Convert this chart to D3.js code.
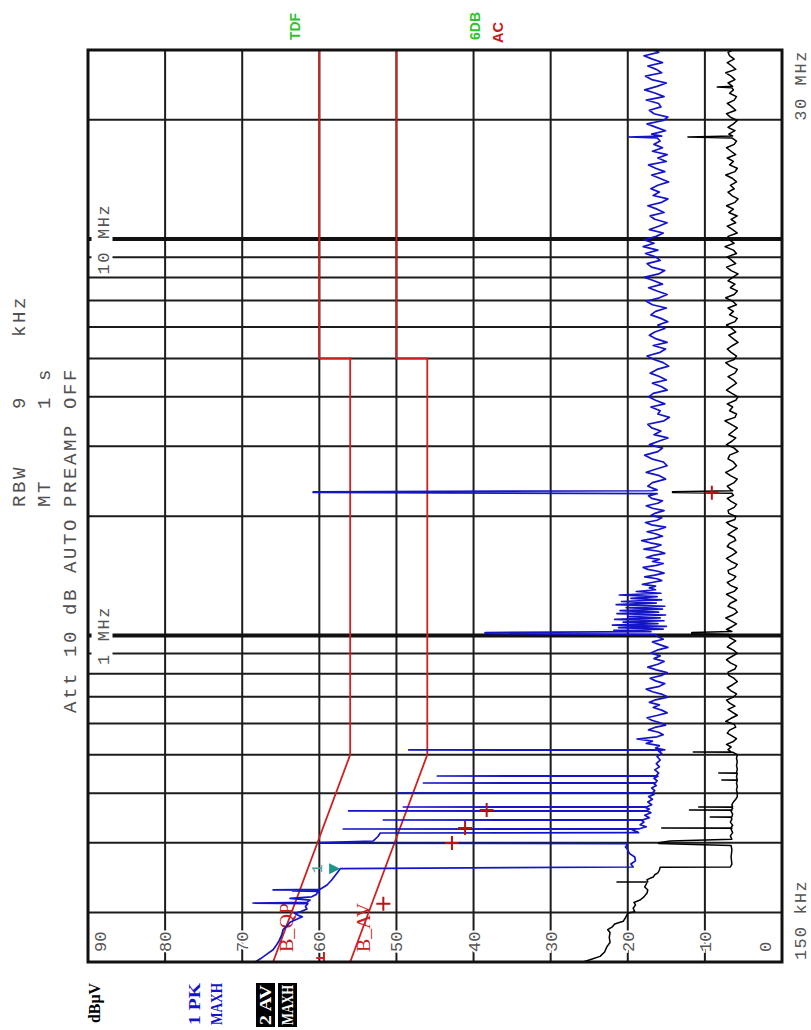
<!DOCTYPE html>
<html>
<head>
<meta charset="utf-8">
<script src="https://cdn.jsdelivr.net/npm/d3@7"></script>
<style>
  html, body { margin: 0; padding: 0; background: #ffffff; }
  svg { display: block; }
</style>
</head>
<body>
<svg id="chart" width="811" height="1030"></svg>
<script>
// ---------------------------------------------------------------
// Conducted emission scan, 150 kHz - 30 MHz, level in dBuV.
// Frequencies in MHz, levels in dBuV.
// ---------------------------------------------------------------

const levelTicks = [0, 10, 20, 30, 40, 50, 60, 70, 80, 90];
const freqMinorGrid = [0.2, 0.3, 0.4, 0.5, 0.6, 0.7, 0.8, 0.9, 2, 3, 4, 5, 6, 7, 8, 9, 20];
const freqDecadeGrid = [1, 10];
const decadeLabels = ["1 MHz", "10 MHz"];

// EN 55022 class B limits
const qpLimit = [[0.15, 66], [0.5, 56], [5, 56], [5, 60], [30, 60]];
const avLimit = [[0.15, 56], [0.5, 46], [5, 46], [5, 50], [30, 50]];

// Trace 1: peak, max hold
const peakTrace = [
  [0.150, 68.3], [0.153, 67.6], [0.157, 66.8], [0.161, 66.0], [0.165, 65.6], [0.170, 65.2],
  [0.175, 64.9], [0.181, 64.7], [0.185, 64.2], [0.189, 63.8], [0.192, 63.0], [0.195, 62.2],
  [0.197, 62.8], [0.199, 63.2], [0.201, 62.4], [0.204, 61.6], [0.207, 61.8], [0.2105, 61.5],
  [0.2113, 68.6], [0.2121, 61.6], [0.215, 61.2], [0.217, 63.8], [0.219, 61.0], [0.222, 60.4],
  [0.224, 60.3], [0.2262, 60.0], [0.2268, 63.5], [0.2274, 60.1], [0.2278, 60.0], [0.2282, 66.0],
  [0.2288, 59.9], [0.2346, 59.0], [0.2415, 58.4], [0.2530, 57.6], [0.2580, 57.3],
  [0.2605, 19.3], [0.2650, 19.6], [0.2700, 19.0], [0.2760, 19.1], [0.2820, 19.8], [0.2880, 20.0],
  [0.2925, 20.3], [0.2960, 20.1], [0.2985, 20.0], [0.2990, 59.9], [0.3000, 59.9], [0.3030, 53.0],
  [0.3110, 52.4], [0.3174, 52.1], [0.3180, 18.6], [0.3200, 18.9], [0.3230, 19.4], [0.3244, 19.0],
  [0.3248, 56.9], [0.3252, 18.5], [0.3290, 17.6], [0.3330, 18.4], [0.3380, 17.9], [0.3418, 18.2],
  [0.3423, 51.7], [0.3428, 18.0], [0.3470, 17.2], [0.3520, 17.8], [0.3570, 17.0], [0.3602, 17.4],
  [0.3607, 56.2], [0.3612, 17.6], [0.3650, 17.2], [0.3686, 17.8], [0.3691, 49.1], [0.3696, 17.5],
  [0.3740, 16.9], [0.3800, 17.4], [0.3860, 16.8], [0.3920, 17.3], [0.3970, 16.6], [0.3999, 17.0],
  [0.4004, 49.8], [0.4009, 16.8], [0.4060, 16.5], [0.4120, 16.9], [0.4180, 16.3], [0.4239, 16.7],
  [0.4244, 46.5], [0.4249, 16.4], [0.4300, 16.2], [0.4360, 16.6], [0.4415, 16.1], [0.4420, 44.7],
  [0.4425, 16.3], [0.4500, 16.0], [0.4580, 16.5], [0.4660, 15.9], [0.4750, 16.3], [0.4850, 15.8],
  [0.4950, 16.2], [0.5040, 15.6], [0.5100, 16.0], [0.5136, 15.5], [0.5141, 48.4], [0.5146, 15.2],
  [0.520, 16.4], [0.527, 15.9], [0.534, 17.6], [0.541, 16.8], [0.548, 18.8], [0.555, 16.2],
  [0.562, 15.4], [0.570, 16.0], [0.578, 17.3], [0.586, 16.5], [0.594, 15.1], [0.602, 15.8],
  [0.611, 16.9], [0.620, 17.5], [0.629, 16.1], [0.638, 14.9], [0.648, 15.6], [0.658, 16.7],
  [0.668, 15.9], [0.678, 17.2], [0.688, 16.4], [0.699, 14.8], [0.710, 15.5], [0.721, 16.8],
  [0.732, 17.6], [0.744, 15.9], [0.756, 15.2], [0.768, 16.4], [0.780, 17.1], [0.793, 15.6],
  [0.806, 14.9], [0.819, 16.3], [0.832, 17.4], [0.846, 16.1], [0.860, 15.3], [0.874, 16.6],
  [0.888, 15.8], [0.903, 17.0], [0.918, 16.2], [0.933, 14.8], [0.948, 15.9], [0.963, 16.8],
  [0.978, 15.4], [0.994, 16.1], [1.005, 16.5], [1.012, 38.5], [1.017, 38.5], [1.022, 17.0],
  [1.030, 21.8], [1.038, 15.4], [1.046, 21.2], [1.054, 15.0], [1.062, 22.0], [1.071, 16.1],
  [1.080, 20.6], [1.089, 15.3], [1.098, 21.7], [1.107, 15.8], [1.116, 19.9], [1.126, 15.1],
  [1.135, 21.4], [1.145, 16.0], [1.155, 21.0], [1.165, 15.5], [1.175, 20.2], [1.185, 15.2],
  [1.196, 21.5], [1.207, 16.3], [1.218, 20.8], [1.229, 15.6], [1.241, 19.6], [1.253, 16.2],
  [1.265, 21.1], [1.278, 15.7], [1.291, 18.9], [1.304, 16.4],
  [1.318, 17.2], [1.332, 16.4], [1.346, 18.1], [1.360, 16.9], [1.375, 15.6], [1.390, 16.2],
  [1.405, 17.8], [1.420, 16.5], [1.436, 15.3], [1.452, 16.1], [1.468, 17.4], [1.485, 18.0],
  [1.502, 16.3], [1.519, 15.4], [1.537, 16.8], [1.555, 15.9], [1.573, 17.6], [1.592, 16.7],
  [1.611, 15.2], [1.631, 16.0], [1.651, 17.9], [1.671, 16.4], [1.692, 15.7], [1.713, 17.1],
  [1.735, 18.2], [1.757, 16.6], [1.780, 15.5], [1.803, 16.3], [1.827, 17.5], [1.851, 16.0],
  [1.876, 15.1], [1.901, 16.9], [1.927, 17.7], [1.953, 16.2], [1.980, 15.6], [2.008, 17.0],
  [2.036, 16.4], [2.065, 15.3], [2.094, 16.8], [2.124, 17.6], [2.155, 16.1], [2.186, 15.5],
  [2.218, 16.9], [2.250, 17.3], [2.280, 16.2], [2.296, 60.8], [2.304, 60.8], [2.318, 16.9],
  [2.33, 16.2], [2.38, 17.4], [2.43, 16.8], [2.48, 15.1], [2.53, 15.9], [2.58, 17.6],
  [2.63, 16.3], [2.68, 14.9], [2.74, 15.4], [2.79, 16.9], [2.85, 17.8], [2.91, 16.1],
  [2.97, 15.5], [3.03, 17.2], [3.09, 16.0], [3.15, 14.8], [3.21, 16.6], [3.28, 15.7],
  [3.34, 16.9], [3.41, 17.4], [3.48, 15.3], [3.55, 14.6], [3.62, 16.1], [3.69, 15.8],
  [3.77, 17.0], [3.84, 15.2], [3.92, 16.4], [4.00, 17.3], [4.08, 16.7], [4.16, 14.9],
  [4.24, 15.6], [4.33, 16.8], [4.41, 15.0], [4.50, 15.9], [4.59, 17.1], [4.69, 16.2],
  [4.78, 14.7], [4.88, 15.4], [4.97, 16.6], [5.07, 17.5], [5.18, 15.8], [5.28, 15.1],
  [5.39, 16.7], [5.49, 14.9], [5.60, 16.3], [5.72, 17.2], [5.83, 16.5], [5.95, 15.2],
  [6.07, 16.1], [6.19, 14.8], [6.31, 15.7], [6.44, 17.0], [6.57, 16.4], [6.70, 15.0],
  [6.83, 16.8], [6.97, 17.6], [7.11, 15.9], [7.25, 14.9], [7.40, 16.2], [7.54, 17.3],
  [7.70, 15.5], [7.85, 16.6], [8.01, 17.9], [8.17, 16.0], [8.33, 15.2], [8.50, 16.9],
  [8.67, 17.5], [8.84, 15.8], [9.02, 16.4], [9.20, 17.7], [9.38, 16.1], [9.57, 18.0],
  [9.76, 16.6], [9.96, 17.9], [10.16, 16.3], [10.36, 15.4], [10.57, 17.2], [10.78, 16.0],
  [11.00, 14.9], [11.22, 16.5], [11.44, 17.1], [11.67, 15.3], [11.90, 16.2], [12.14, 17.4],
  [12.38, 15.6], [12.63, 14.8], [12.88, 16.7], [13.14, 15.9], [13.40, 17.0], [13.67, 16.1],
  [13.94, 14.7], [14.22, 15.8], [14.51, 16.9], [14.80, 15.2], [15.09, 16.4], [15.39, 17.3],
  [15.70, 15.0], [16.02, 16.1], [16.34, 14.9], [16.66, 16.8], [17.00, 15.5], [17.34, 16.6],
  [17.68, 15.8], [18.00, 16.2], [18.10, 20.0], [18.20, 15.6], [18.40, 16.9], [18.77, 15.1],
  [19.14, 16.3], [19.53, 17.5], [19.92, 15.4], [20.32, 14.8], [20.72, 16.6], [21.14, 17.2],
  [21.56, 15.7], [21.99, 16.0], [22.43, 17.6], [22.88, 15.3], [23.34, 16.4], [23.80, 17.8],
  [24.28, 16.2], [24.77, 15.0], [25.26, 16.9], [25.77, 17.7], [26.28, 15.6], [26.81, 16.3],
  [27.34, 17.4], [27.89, 15.5], [28.45, 16.8], [29.02, 17.9], [29.60, 16.0], [30.00, 16.6]
];

// Trace 2: average, max hold
const averageTrace = [
  [0.150, 25.8], [0.152, 24.9], [0.155, 23.6], [0.159, 23.0], [0.164, 22.7], [0.168, 22.3],
  [0.173, 22.4], [0.178, 22.3], [0.181, 22.6], [0.184, 22.0], [0.187, 21.7], [0.190, 20.6],
  [0.194, 20.3], [0.199, 20.0], [0.201, 19.1], [0.205, 19.3], [0.209, 19.0], [0.212, 19.2],
  [0.215, 18.4], [0.219, 17.9], [0.224, 17.5], [0.228, 17.4], [0.232, 17.8], [0.236, 17.6],
  [0.2383, 17.5], [0.2387, 21.4], [0.2391, 17.4], [0.2420, 17.5], [0.2457, 16.7], [0.2490, 16.5],
  [0.2516, 16.1], [0.2560, 15.9], [0.2600, 15.8], [0.2605, 6.7], [0.2650, 6.5], [0.2760, 6.6],
  [0.2880, 6.5], [0.2950, 6.6], [0.2985, 16.0], [0.3000, 16.0], [0.3030, 14.5], [0.3060, 6.5],
  [0.3120, 6.7], [0.3180, 6.4], [0.3240, 6.6], [0.3262, 6.5], [0.3267, 15.6], [0.3272, 6.6],
  [0.3320, 6.4], [0.3380, 6.7], [0.3440, 6.5], [0.3478, 6.6], [0.3483, 9.3], [0.3488, 6.5],
  [0.3540, 6.4], [0.3600, 6.6], [0.3623, 6.5], [0.3628, 12.0], [0.3633, 6.6], [0.3660, 6.4],
  [0.3686, 6.5], [0.3691, 10.8], [0.3696, 6.4], [0.3740, 6.5], [0.3800, 6.3], [0.3860, 6.0],
  [0.3920, 5.8], [0.4000, 5.8], [0.4080, 5.9], [0.4160, 5.8], [0.4240, 5.9], [0.4313, 5.8],
  [0.4318, 7.8], [0.4323, 5.8], [0.4400, 5.9], [0.4493, 5.8], [0.4498, 8.2], [0.4503, 5.9],
  [0.4600, 5.8], [0.4700, 5.9], [0.4800, 5.8], [0.4900, 5.9], [0.5000, 5.8], [0.5076, 6.4],
  [0.5081, 11.5], [0.5086, 6.6],
  [0.515, 7.0], [0.523, 6.6], [0.531, 7.2], [0.540, 6.3], [0.549, 5.9], [0.558, 6.5],
  [0.567, 7.1], [0.577, 6.8], [0.587, 6.0], [0.597, 6.2], [0.607, 7.3], [0.618, 6.6],
  [0.629, 5.8], [0.640, 6.4], [0.651, 7.0], [0.663, 6.1], [0.675, 6.8], [0.687, 7.2],
  [0.699, 6.3], [0.712, 5.9], [0.725, 6.6], [0.738, 7.1], [0.751, 6.4], [0.765, 5.8],
  [0.779, 6.2], [0.793, 6.9], [0.808, 7.0], [0.823, 6.1], [0.838, 5.9], [0.853, 6.7],
  [0.869, 7.2], [0.885, 6.5], [0.901, 5.8], [0.918, 6.3], [0.935, 7.1], [0.952, 6.6],
  [0.969, 6.0], [0.987, 6.8], [1.005, 6.9], [1.012, 11.7], [1.017, 11.7], [1.023, 6.5],
  [1.035, 7.2], [1.052, 6.5], [1.070, 5.9], [1.088, 6.6], [1.107, 7.3], [1.126, 6.4],
  [1.145, 5.8], [1.165, 6.1], [1.185, 7.0], [1.206, 6.7], [1.227, 5.9], [1.248, 6.5],
  [1.270, 7.2], [1.292, 6.2], [1.315, 5.8], [1.338, 6.7], [1.361, 7.1], [1.385, 6.3],
  [1.409, 6.0], [1.434, 6.9], [1.459, 7.0], [1.485, 6.1], [1.511, 5.8], [1.537, 6.6],
  [1.564, 7.2], [1.592, 6.5], [1.620, 5.9], [1.648, 6.3], [1.677, 7.1], [1.707, 6.8],
  [1.737, 6.0], [1.767, 6.2], [1.798, 7.0], [1.830, 6.4], [1.862, 5.8], [1.895, 6.7],
  [1.928, 7.2], [1.962, 6.1], [1.997, 6.0], [2.032, 6.9], [2.068, 7.0], [2.104, 6.2],
  [2.141, 5.9], [2.179, 6.6], [2.217, 7.1], [2.256, 6.3], [2.285, 6.5], [2.296, 14.2],
  [2.304, 14.2], [2.318, 6.4],
  [2.33, 6.6], [2.38, 7.1], [2.43, 6.2], [2.48, 5.8], [2.53, 6.7], [2.58, 7.3],
  [2.63, 6.4], [2.68, 5.9], [2.74, 6.3], [2.79, 7.0], [2.85, 6.8], [2.91, 5.7],
  [2.97, 6.2], [3.03, 7.2], [3.09, 6.5], [3.15, 6.0], [3.21, 6.9], [3.28, 6.3],
  [3.34, 5.8], [3.41, 6.6], [3.48, 7.4], [3.55, 6.1], [3.62, 5.9], [3.69, 6.8],
  [3.77, 6.4], [3.84, 7.1], [3.92, 6.0], [4.00, 5.7], [4.08, 6.5], [4.16, 7.2],
  [4.24, 6.6], [4.33, 5.9], [4.41, 6.3], [4.50, 7.0], [4.59, 6.1], [4.69, 5.8],
  [4.78, 6.7], [4.88, 7.3], [4.97, 6.2], [5.07, 5.9], [5.18, 6.6], [5.28, 7.1],
  [5.39, 6.4], [5.49, 5.7], [5.60, 6.3], [5.72, 6.9], [5.83, 6.0], [5.95, 6.5],
  [6.07, 7.2], [6.19, 6.1], [6.31, 5.8], [6.44, 6.8], [6.57, 6.3], [6.70, 7.0],
  [6.83, 5.9], [6.97, 6.4], [7.11, 7.3], [7.25, 6.2], [7.40, 5.8], [7.54, 6.7],
  [7.70, 6.1], [7.85, 7.0], [8.01, 6.4], [8.17, 5.7], [8.33, 6.6], [8.50, 7.2],
  [8.67, 6.0], [8.84, 6.5], [9.02, 7.1], [9.20, 5.9], [9.38, 6.3], [9.57, 7.4],
  [9.76, 6.2], [9.96, 6.8], [10.16, 7.0], [10.36, 5.8], [10.57, 6.4], [10.78, 7.1],
  [11.00, 6.0], [11.22, 6.6], [11.44, 5.8], [11.67, 6.9], [11.90, 6.3], [12.14, 7.2],
  [12.38, 6.1], [12.63, 5.7], [12.88, 6.5], [13.14, 7.0], [13.40, 6.2], [13.67, 6.7],
  [13.94, 5.9], [14.22, 6.4], [14.51, 7.3], [14.80, 6.1], [15.09, 5.8], [15.39, 6.8],
  [15.70, 6.3], [16.02, 7.1], [16.34, 6.0], [16.66, 6.6], [17.00, 7.2], [17.34, 6.2],
  [17.68, 5.9], [18.00, 6.5], [18.10, 12.2], [18.20, 6.4], [18.40, 6.9], [18.77, 6.1],
  [19.14, 7.0], [19.53, 6.3], [19.92, 5.8], [20.32, 6.7], [20.72, 7.2], [21.14, 6.0],
  [21.56, 6.5], [21.99, 7.1], [22.43, 6.2], [22.88, 5.9], [23.34, 6.8], [23.80, 6.3],
  [24.10, 6.5], [24.20, 8.4], [24.30, 6.4], [24.77, 7.0], [25.26, 6.1], [25.77, 6.6],
  [26.28, 7.3], [26.81, 6.0], [27.34, 6.5], [27.89, 7.1], [28.45, 6.2], [29.02, 6.8],
  [29.60, 7.0], [30.00, 6.4]
];

// Final measurement results
const finalResults = [[0.2103, 51.7], [0.2995, 42.8], [0.3267, 41.1], [0.3628, 38.3], [2.29, 9.1]];

// Marker 1
const marker1 = [0.258, 57.3];

// ---------------------------------------------------------------
const svg = d3.select("#chart");
svg.append("rect").attr("width", 811).attr("height", 1030).attr("fill", "#ffffff");

// The analyzer hardcopy is laid out sideways: frequency runs up the page,
// level runs right to left.
const g = svg.append("g").attr("transform", "translate(0,1030) rotate(-90)");

const x = d3.scaleLog().domain([0.15, 30]).range([68, 980]);
const y = d3.scaleLinear().domain([0, 90]).range([782, 88]);

const [u0, u1] = x.range();
const [v0, v1] = [y(90), y(0)];

const MONO = "'Liberation Mono', 'DejaVu Sans Mono', monospace";
const SERIF = "'Liberation Serif', 'DejaVu Serif', serif";
const SANS = "'Liberation Sans', Arial, sans-serif";
const GRID = "#1c1c1c";
const LABEL_GRAY = "#555555";

// Level grid
g.append("g").selectAll("line")
  .data(levelTicks.filter(d => d > 0 && d < 90))
  .join("line")
  .attr("x1", u0).attr("x2", u1)
  .attr("y1", d => y(d)).attr("y2", d => y(d))
  .attr("stroke", GRID).attr("stroke-width", 2);

// Frequency grid
g.append("g").selectAll("line")
  .data(freqMinorGrid)
  .join("line")
  .attr("x1", d => x(d)).attr("x2", d => x(d))
  .attr("y1", v0).attr("y2", v1)
  .attr("stroke", GRID).attr("stroke-width", 2);

g.append("g").selectAll("line")
  .data(freqDecadeGrid)
  .join("line")
  .attr("x1", d => x(d)).attr("x2", d => x(d))
  .attr("y1", v0).attr("y2", v1)
  .attr("stroke", "#111111").attr("stroke-width", 4);

// Decade labels sit on a white patch that interrupts the grid
const decade = g.append("g");
decadeLabels.forEach((t, i) => {
  const c = x(freqDecadeGrid[i]);
  decade.append("rect")
    .attr("x", c - 32).attr("y", 91.5)
    .attr("width", 64).attr("height", 21)
    .attr("fill", "#ffffff");
  decade.append("text")
    .attr("x", c).attr("y", 108.5)
    .attr("text-anchor", "middle")
    .attr("font-family", MONO).attr("font-size", 17)
    .attr("letter-spacing", 1.6)
    .attr("fill", LABEL_GRAY)
    .text(t);
});

// Level tick labels along the low-frequency edge
g.append("g").selectAll("text")
  .data(levelTicks)
  .join("text")
  .attr("x", u0 + 10)
  .attr("y", d => (d === 90 ? y(d) + 12 : d === 0 ? y(d) - 17 : y(d)) + 6)
  .attr("font-family", MONO).attr("font-size", 17)
  .attr("fill", LABEL_GRAY)
  .attr("stroke", "#ffffff").attr("stroke-width", 4).attr("paint-order", "stroke")
  .text(d => d);

// Limit lines
const line = d3.line().x(d => x(d[0])).y(d => y(d[1]));
g.append("path").datum(qpLimit).attr("d", line)
  .attr("fill", "none").attr("stroke", "#d02020").attr("stroke-width", 1.8);
g.append("path").datum(avLimit).attr("d", line)
  .attr("fill", "none").attr("stroke", "#d02020").attr("stroke-width", 1.8);

// Limit line labels
[["B_QP", qpLimit], ["B_AV", avLimit]].forEach(([t, lim]) => {
  g.append("text")
    .attr("x", u0 + 10).attr("y", y(lim[0][1]) + 20)
    .attr("font-family", SERIF).attr("font-size", 19)
    .attr("textLength", 49).attr("lengthAdjust", "spacingAndGlyphs")
    .attr("fill", "#c82020")
    .text(t);
});

// Small limit-check flag at the low-frequency edge
g.append("path")
  .attr("d", `M${u0},${y(59.4)} L${u0 + 10},${y(59.4)} M${u0 + 4},${y(59.4)} L${u0 + 4},${y(60.4)}`)
  .attr("fill", "none").attr("stroke", "#d02020").attr("stroke-width", 2);

// Traces
g.append("path").datum(averageTrace).attr("d", line)
  .attr("fill", "none").attr("stroke", "#000000").attr("stroke-width", 1.5)
  .attr("stroke-linejoin", "round");
g.append("path").datum(peakTrace).attr("d", line)
  .attr("fill", "none").attr("stroke", "#1414c8").attr("stroke-width", 1.7)
  .attr("stroke-linejoin", "round");

// Final results
g.append("g").selectAll("path")
  .data(finalResults)
  .join("path")
  .attr("d", d => {
    const cx = x(d[0]), cy = y(d[1]);
    return `M${cx - 7},${cy} L${cx + 7},${cy} M${cx},${cy - 7} L${cx},${cy + 7}`;
  })
  .attr("stroke", "#b81414").attr("stroke-width", 2).attr("fill", "none");

// Marker 1
{
  const mu = x(marker1[0]), mv = y(marker1[1]);
  g.append("path")
    .attr("d", `M${mu},${mv} L${mu - 5.5},${mv - 11} L${mu + 5.5},${mv - 11} Z`)
    .attr("fill", "#1f9488");
  g.append("text")
    .attr("x", mu).attr("y", mv - 18)
    .attr("text-anchor", "middle")
    .attr("font-family", MONO).attr("font-size", 15)
    .attr("fill", "#4a9e96")
    .text("1");
}

// Frame
g.append("rect")
  .attr("x", u0).attr("y", v0)
  .attr("width", u1 - u0).attr("height", v1 - v0)
  .attr("fill", "none").attr("stroke", "#111111").attr("stroke-width", 3);

// Start / stop frequency
g.append("text")
  .attr("x", u0 + 2).attr("y", v1 + 24)
  .attr("font-family", MONO).attr("font-size", 17).attr("letter-spacing", 1.2)
  .attr("fill", LABEL_GRAY)
  .text("150 kHz");
g.append("text")
  .attr("x", u1).attr("y", v1 + 24)
  .attr("text-anchor", "end")
  .attr("font-family", MONO).attr("font-size", 17).attr("letter-spacing", 1.6)
  .attr("fill", LABEL_GRAY)
  .text("30 MHz");

// Instrument settings
const hdr = (txt, u, v) => g.append("text")
  .attr("x", u).attr("y", v)
  .attr("font-family", MONO).attr("font-size", 19).attr("letter-spacing", 2.6)
  .attr("fill", "#505050")
  .text(txt);
hdr("RBW", 523, 24.5); hdr("9", 621, 24.5); hdr("kHz", 693, 24.5);
hdr("MT", 523, 49.5); hdr("1", 621, 49.5); hdr("s", 649, 49.5);
hdr("PREAMP", 523, 75.5); hdr("OFF", 621, 75.5);
hdr("Att 10 dB AUTO", 317, 75.5);

// Unit and trace legend
const legend = (txt, u, v, len, fill, font, size) => g.append("text")
  .attr("x", u).attr("y", v)
  .attr("font-family", font).attr("font-size", size).attr("font-weight", "bold")
  .attr("textLength", len).attr("lengthAdjust", "spacingAndGlyphs")
  .attr("fill", fill)
  .text(txt);
legend("dB\u00b5V", 7, 100, 40, "#000000", SERIF, 16);
legend("1 PK", 5, 200, 42, "#1414c8", SERIF, 16);
legend("MAXH", 5, 222, 42, "#1414c8", SERIF, 16);
g.append("rect").attr("x", 3).attr("y", 256).attr("width", 44).attr("height", 19).attr("fill", "#000000");
g.append("rect").attr("x", 3).attr("y", 278).attr("width", 44).attr("height", 19).attr("fill", "#000000");
legend("2 AV", 5, 271, 40, "#ffffff", SERIF, 16);
legend("MAXH", 5, 293, 40, "#ffffff", SERIF, 16);

// Side annotations
legend("TDF", 990, 300, 27, "#2ec42e", SANS, 14);
legend("6DB", 990, 480, 28, "#2ec42e", SANS, 14);
legend("AC", 987, 503, 21, "#cc1818", SANS, 14);
</script>
</body>
</html>
